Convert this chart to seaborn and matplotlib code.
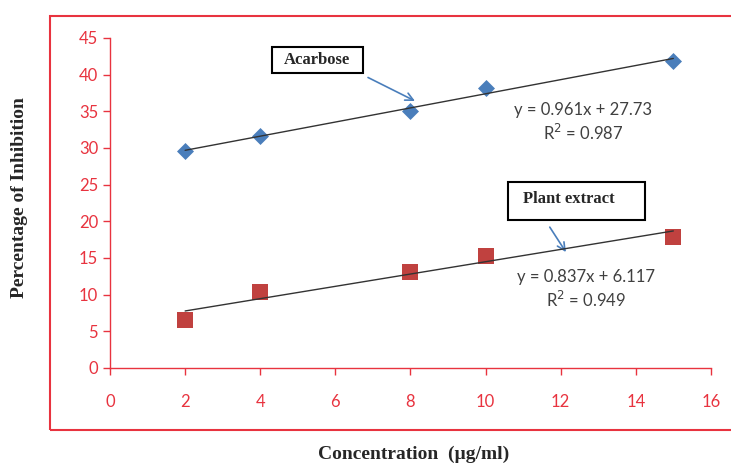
import numpy as np
import pandas as pd
import seaborn as sns
import matplotlib
matplotlib.use("Agg")
import matplotlib.pyplot as plt
from matplotlib.patches import Rectangle

sns.set_theme(style="white")
plt.rcParams['font.family'] = ['Lato', 'DejaVu Sans']

# values
conc = [2, 4, 8, 10, 15]
acarbose = [29.6, 31.6, 35.0, 38.2, 41.9]
plant = [6.5, 10.4, 13.1, 15.3, 17.9]

_RED = '#e8333f'
_BLUE = '#4a7ebb'
_MAROON = '#c0413f'
_TXT = '#404040'

df = pd.DataFrame({'conc': conc, 'acarbose': acarbose, 'plant': plant})

fig = plt.figure(figsize=(7.31, 4.63), dpi=100)
ax = fig.add_axes([0.1505, 0.2052, 0.822, 0.713])

# chart area frame
fig.patches.append(Rectangle((50 / 731, 1 - 430 / 463), 0.99, (430 - 16) / 463,
                             transform=fig.transFigure, fill=False,
                             edgecolor=_RED, linewidth=1.5, zorder=0))

sns.regplot(data=df, x='conc', y='acarbose', ax=ax, ci=None, truncate=True,
            marker='D', scatter_kws=dict(s=75, color=_BLUE, linewidths=0,
                                         alpha=1, zorder=3),
            line_kws=dict(color='#333333', linewidth=1, zorder=4))
sns.regplot(data=df, x='conc', y='plant', ax=ax, ci=None, truncate=True,
            marker='s', scatter_kws=dict(s=125, color=_MAROON, linewidths=0,
                                         alpha=1, zorder=3),
            line_kws=dict(color='#333333', linewidth=1, zorder=4))

ax.set_xlim(0, 16)
ax.set_ylim(0, 45)
ax.set_xticks(range(0, 17, 2))
ax.set_yticks(range(0, 46, 5))
ax.tick_params(colors=_RED, labelcolor=_RED, labelsize=12, length=5,
               width=1, direction='out', left=True, bottom=True)
ax.tick_params(axis='x', pad=14)
for s in ['top', 'right']:
    ax.spines[s].set_visible(False)
for s in ['left', 'bottom']:
    ax.spines[s].set_color(_RED)
    ax.spines[s].set_linewidth(1)
ax.grid(False)
ax.set_xlabel('')
ax.set_ylabel('')

# trendline equations
eq = dict(ha='center', va='center', color=_TXT, fontsize=12)
ax.text(12.6, 35.2, 'y = 0.961x + 27.73', **eq)
ax.text(12.6, 32.0, 'R$^2$ = 0.987', **eq)
ax.text(12.67, 12.4, 'y = 0.837x + 6.117', **eq)
ax.text(12.67, 9.3, 'R$^2$ = 0.949', **eq)

# callout boxes with arrows
serif = dict(fontsize=12, fontweight='bold', family='Liberation Serif',
             va='center')
ax.add_patch(Rectangle((4.31, 40.25), 2.43, 3.55, facecolor='white',
                       edgecolor='black', linewidth=1.5, zorder=4))
ax.text(5.52, 42.0, 'Acarbose', ha='center', zorder=5, **serif)
ax.annotate('', xy=(8.12, 36.4), xytext=(6.87, 39.6),
            arrowprops=dict(arrowstyle='->', color=_BLUE, lw=1.2,
                            shrinkA=0, shrinkB=0, mutation_scale=14))

ax.add_patch(Rectangle((10.60, 20.2), 3.64, 5.2, facecolor='white',
                       edgecolor='black', linewidth=1.5, zorder=4))
ax.text(11.0, 23.1, 'Plant extract', ha='left', zorder=5, **serif)
ax.annotate('', xy=(12.14, 15.8), xytext=(11.71, 19.2),
            arrowprops=dict(arrowstyle='->', color=_BLUE, lw=1.2,
                            shrinkA=0, shrinkB=0, mutation_scale=14))

fig.text(20 / 731, 1 - 198 / 463, 'Percentage of Inhibition', rotation=90,
         ha='center', va='center', fontsize=14, fontweight='bold',
         family='Liberation Serif')
fig.text(414 / 731, 1 - 454 / 463, 'Concentration  (µg/ml)', ha='center',
         va='center', fontsize=14, fontweight='bold', family='Liberation Serif')

fig.savefig('out.png', dpi=100)
